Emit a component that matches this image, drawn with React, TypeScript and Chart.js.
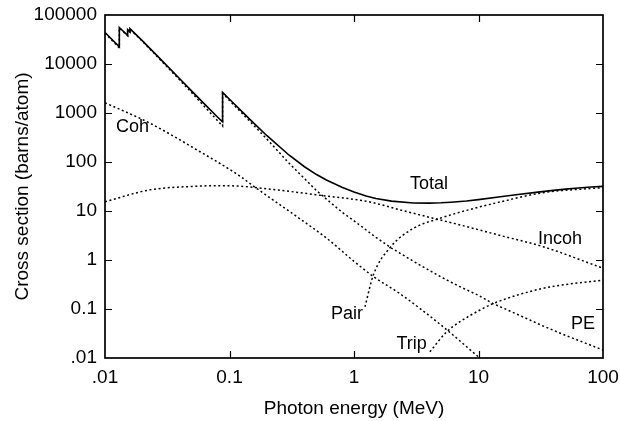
import React, { useEffect, useRef } from 'react';
import { Chart, registerables } from 'chart.js';

Chart.register(...registerables);

const FONT = "'Liberation Sans', Arial, Helvetica, sans-serif";

// Total attenuation (barns/atom), with L3, L2, L1 and K absorption edges
const TOTAL_E = [0.01, 0.013035, 0.013035, 0.0152, 0.0152, 0.01586, 0.01586, 0.02, 0.03, 0.04, 0.05, 0.06, 0.08, 0.088, 0.088, 0.1, 0.15, 0.2, 0.3, 0.4, 0.5, 0.6, 0.8, 1, 1.25, 1.5, 2, 3, 4, 5, 6, 8, 10, 15, 20, 30, 40, 50, 60, 80, 100];
const TOTAL_V = [44000, 22500, 55500, 38500, 50500, 45800, 52500, 29700, 10400, 4950, 2770, 1730, 830, 660, 2640, 1910, 692, 344, 139, 80, 55.4, 43, 30.5, 24.4, 20.2, 18.0, 15.9, 14.6, 14.5, 14.7, 15.1, 16.0, 17.1, 19.5, 21.4, 24.3, 26.4, 27.9, 29.1, 30.8, 31.8];

// Photoelectric
const PE_E = [0.01, 0.013035, 0.013035, 0.0152, 0.0152, 0.01586, 0.01586, 0.02, 0.03, 0.04, 0.05, 0.06, 0.08, 0.088, 0.088, 0.1, 0.15, 0.2, 0.3, 0.4, 0.5, 0.6, 0.8, 1, 1.5, 2, 3, 5, 7, 10, 13, 20, 33, 50, 100];
const PE_V = [42300, 21300, 54300, 37600, 49600, 44900, 51650, 29000, 10000, 4670, 2550, 1550, 700, 540, 2520, 1800, 626, 293, 95, 46, 26, 17.5, 9.5, 6.3, 2.9, 1.75, 0.94, 0.45, 0.29, 0.19, 0.13, 0.08, 0.045, 0.029, 0.0146];

// Coherent
const COH_E = [0.01, 0.023, 0.058, 0.118, 0.165, 0.347, 0.604, 1, 1.43, 2.34, 5, 10];
const COH_V = [1620, 617, 162, 54, 29, 7.7, 2.77, 0.94, 0.46, 0.205, 0.047, 0.0105];

// Incoherent
const INCOH_E = [0.01, 0.023, 0.058, 0.08, 0.118, 0.187, 0.53, 1.3, 2.5, 4.34, 7.1, 15, 33, 100];
const INCOH_V = [15.5, 27, 32.2, 32.8, 32.2, 29, 21, 15.5, 10.1, 7.1, 5.2, 3.16, 1.87, 0.68];

// Pair (nuclear field)
const PAIR_E = [1.225, 1.43, 1.95, 2.99, 4.91, 10.3, 13.2, 33, 100];
const PAIR_V = [0.111, 0.494, 1.8, 4.4, 7.1, 12.2, 14.2, 23.6, 30];

// Triplet (electron field)
const TRIP_E = [4.07, 5.56, 7.1, 10.3, 13.2, 33, 100];
const TRIP_V = [0.0134, 0.0344, 0.055, 0.0955, 0.13, 0.264, 0.39];

const X_TICKS = [0.01, 0.1, 1, 10, 100];
const X_TICK_LABELS = ['.01', '0.1', '1', '10', '100'];
const Y_TICKS = [0.01, 0.1, 1, 10, 100, 1000, 10000, 100000];
const Y_TICK_LABELS = ['.01', '0.1', '1', '10', '100', '1000', '10000', '100000'];

const CURVE_LABELS = [
  { text: 'Coh', e: 0.0166, v: 520 },
  { text: 'Total', e: 4.0, v: 35.2 },
  { text: 'Incoh', e: 45.2, v: 2.65 },
  { text: 'Pair', e: 0.879, v: 0.078 },
  { text: 'PE', e: 69, v: 0.049 },
  { text: 'Trip', e: 2.9, v: 0.0195 },
];

const zip = (xs: number[], ys: number[]) => xs.map((x, i) => ({ x, y: ys[i] }));

const zeroPadding = (s: any) => {
  s.paddingTop = 0;
  s.paddingBottom = 0;
  s.paddingLeft = 0;
  s.paddingRight = 0;
};

const framePlugin = {
  id: 'frame',
  afterDatasetsDraw(chart: any) {
    const { ctx, chartArea: a, scales } = chart;
    const xs = scales.x;
    const ys = scales.y;
    ctx.save();
    ctx.strokeStyle = '#000';
    ctx.lineWidth = 1.7;
    ctx.strokeRect(a.left, a.top, a.right - a.left, a.bottom - a.top);
    ctx.lineWidth = 1.2;
    const tl = 7;
    ctx.beginPath();
    X_TICKS.slice(1, -1).forEach((v) => {
      const px = Math.round(xs.getPixelForValue(v)) + 0.5;
      ctx.moveTo(px, a.bottom);
      ctx.lineTo(px, a.bottom - tl);
      ctx.moveTo(px, a.top);
      ctx.lineTo(px, a.top + tl);
    });
    Y_TICKS.slice(1, -1).forEach((v) => {
      const py = Math.round(ys.getPixelForValue(v)) + 0.5;
      ctx.moveTo(a.left, py);
      ctx.lineTo(a.left + tl, py);
      ctx.moveTo(a.right, py);
      ctx.lineTo(a.right - tl, py);
    });
    ctx.stroke();
    ctx.fillStyle = '#000';
    ctx.font = `18px ${FONT}`;
    ctx.textAlign = 'center';
    ctx.textBaseline = 'middle';
    CURVE_LABELS.forEach((l) => {
      ctx.fillText(l.text, xs.getPixelForValue(l.e), ys.getPixelForValue(l.v));
    });
    ctx.restore();
  },
};

export default function App() {
  const ref = useRef<HTMLCanvasElement | null>(null);

  useEffect(() => {
    if (!ref.current) return;
    const dotted = {
      borderColor: '#000',
      borderWidth: 1.5,
      borderDash: [2, 2.6],
      pointRadius: 0,
      fill: false,
    };
    const chart = new Chart(ref.current, {
      type: 'line',
      data: {
        datasets: [
          { label: 'Total', data: zip(TOTAL_E, TOTAL_V), borderColor: '#000', borderWidth: 1.6, pointRadius: 0, tension: 0, fill: false },
          { label: 'PE', data: zip(PE_E, PE_V), ...dotted, tension: 0 },
          { label: 'Coh', data: zip(COH_E, COH_V), ...dotted, cubicInterpolationMode: 'monotone' },
          { label: 'Incoh', data: zip(INCOH_E, INCOH_V), ...dotted, cubicInterpolationMode: 'monotone' },
          { label: 'Pair', data: zip(PAIR_E, PAIR_V), ...dotted, cubicInterpolationMode: 'monotone' },
          { label: 'Trip', data: zip(TRIP_E, TRIP_V), ...dotted, cubicInterpolationMode: 'monotone' },
        ],
      },
      options: {
        animation: false,
        responsive: true,
        maintainAspectRatio: false,
        layout: { padding: { top: 15, right: 17, left: 0, bottom: 0 } },
        plugins: { legend: { display: false }, tooltip: { enabled: false } },
        scales: {
          x: {
            type: 'logarithmic',
            min: 0.01,
            max: 100,
            position: 'bottom',
            afterBuildTicks: (s: any) => {
              s.ticks = X_TICKS.map((v) => ({ value: v }));
            },
            afterFit: (s: any) => {
              s.height = 63;
              zeroPadding(s);
            },
            ticks: {
              callback: (_v: any, i: number) => X_TICK_LABELS[i],
              font: { size: 19, family: FONT },
              color: '#000',
              padding: 8,
              maxRotation: 0,
              autoSkip: false,
            },
            grid: { display: false, drawTicks: false },
            border: { display: false },
            title: {
              display: true,
              text: 'Photon energy (MeV)',
              font: { size: 19, family: FONT },
              color: '#000',
              padding: { top: 0, bottom: 1 },
            },
          },
          y: {
            type: 'logarithmic',
            min: 0.01,
            max: 100000,
            position: 'left',
            afterBuildTicks: (s: any) => {
              s.ticks = Y_TICKS.map((v) => ({ value: v }));
            },
            afterFit: (s: any) => {
              s.width = 105;
              zeroPadding(s);
            },
            ticks: {
              callback: (_v: any, i: number) => Y_TICK_LABELS[i],
              font: { size: 19, family: FONT },
              color: '#000',
              padding: 8,
              autoSkip: false,
            },
            grid: { display: false, drawTicks: false },
            border: { display: false },
            title: {
              display: true,
              text: 'Cross section (barns/atom)',
              font: { size: 19, family: FONT },
              color: '#000',
              padding: { top: 11, bottom: 0 },
            },
          },
        },
      } as any,
      plugins: [framePlugin],
    });
    return () => chart.destroy();
  }, []);

  return (
    <div style={{ position: 'fixed', left: 0, top: 0, width: 620, height: 421, background: '#fff' }}>
      <canvas ref={ref} />
    </div>
  );
}
